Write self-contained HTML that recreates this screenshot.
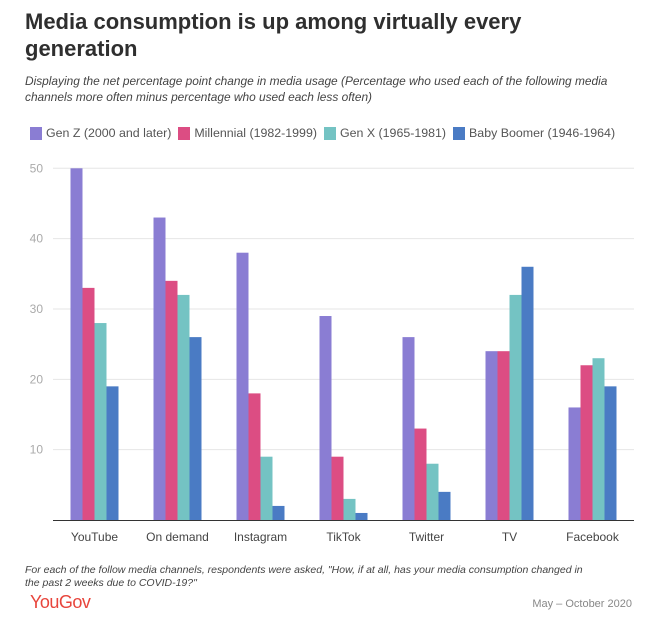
<!DOCTYPE html>
<html><head><meta charset="utf-8"><style>
body{margin:0;width:645px;height:637px;background:#fff;font-family:"Liberation Sans",sans-serif;position:relative;overflow:hidden}
.t{position:absolute;white-space:nowrap}
</style></head><body>
<div class="t" style="left:25px;top:8px;font-size:22px;font-weight:bold;color:#2f2f2f;line-height:27px">Media consumption is up among virtually every<br>generation</div>
<div class="t" style="left:25px;top:73px;font-size:11.9px;font-style:italic;color:#444;line-height:16px">Displaying the net percentage point change in media usage (Percentage who used each of the following media<br>channels more often minus percentage who used each less often)</div>
<div style="position:absolute;left:30px;top:126px;font-size:12.4px;color:#555;display:flex;align-items:center">
<span style="display:flex;align-items:center;margin-right:7px"><i style="width:12px;height:13px;background:#8a7dd3;margin-right:4px"></i>Gen Z (2000 and later)</span>
<span style="display:flex;align-items:center;margin-right:7px"><i style="width:12px;height:13px;background:#dc4d83;margin-right:4px"></i>Millennial (1982-1999)</span>
<span style="display:flex;align-items:center;margin-right:7px"><i style="width:12px;height:13px;background:#74c3c3;margin-right:4px"></i>Gen X (1965-1981)</span>
<span style="display:flex;align-items:center"><i style="width:12px;height:13px;background:#4a7bc4;margin-right:4px"></i>Baby Boomer (1946-1964)</span>
</div>
<svg id="chart" width="645" height="637" style="position:absolute;left:0;top:0"></svg>
<div class="t" style="left:25px;top:564px;font-size:10.5px;font-style:italic;color:#444;line-height:13px">For each of the follow media channels, respondents were asked, "How, if at all, has your media consumption changed in<br>the past 2 weeks due to COVID-19?"</div>
<div class="t" style="left:30px;top:592px;font-size:18px;color:#e8453c;letter-spacing:-0.5px">YouGov</div>
<div class="t" style="right:13px;top:598px;font-size:11px;color:#888">May – October 2020</div>
<script>
const categories=["YouTube","On demand","Instagram","TikTok","Twitter","TV","Facebook"];
const genZ=[50,43,38,29,26,24,16];
const millennial=[33,34,18,9,13,24,22];
const genX=[28,32,9,3,8,32,23];
const boomer=[19,26,2,1,4,36,19];
const yTicks=[10,20,30,40,50];
const seriesNames=["genz","millennial","genx","boomer"];
const colors=["#8a7dd3","#dc4d83","#74c3c3","#4a7bc4"];
const svg=document.getElementById('chart');
const NS="http://www.w3.org/2000/svg";
const x0=53,x1=634,y0=520,yTop=168.3,maxV=50;
const y=v=>y0-(y0-yTop)*v/maxV;
const band=(x1-x0)/categories.length;
const bx=i=>x0+band*i+band/2;
function mk(t,a){const e=document.createElementNS(NS,t);for(const k in a)e.setAttribute(k,a[k]);svg.appendChild(e);return e;}
yTicks.forEach(v=>{
 const g=mk('line',{x1:x0,x2:x1,y1:y(v),y2:y(v),stroke:'#e6e6e6','stroke-width':1});
 
 
 const t=mk('text',{x:43,y:y(v)+4,'text-anchor':'end','font-size':12,fill:'#aaa','font-family':'Liberation Sans, sans-serif'});
 t.textContent=v;
 
 
});
const series=[genZ,millennial,genX,boomer];
const bw=12;
categories.forEach((c,i)=>{
 series.forEach((s,j)=>{
  const r=mk('rect',{x:bx(i)-2*bw+j*bw,y:y(s[i]),width:bw,height:y0-y(s[i]),fill:colors[j]});
  
  
 });
 const t=mk('text',{x:bx(i),y:541,'text-anchor':'middle','font-size':12,fill:'#444','font-family':'Liberation Sans, sans-serif'});
 t.textContent=c;
 
 
});
const ax=mk('line',{x1:x0,x2:x1,y1:y0+0.5,y2:y0+0.5,stroke:'#333','stroke-width':1});


</script>
</body></html>
